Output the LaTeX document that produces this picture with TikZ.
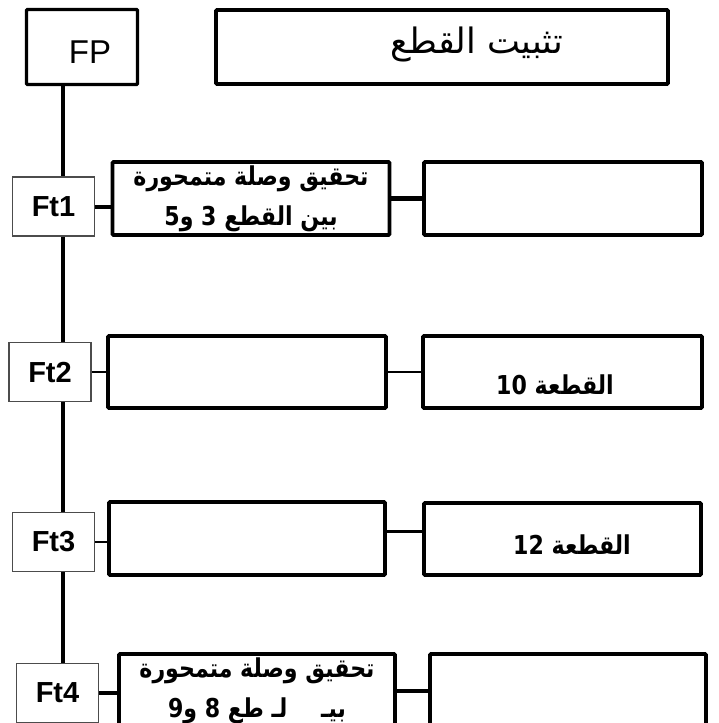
\documentclass[tikz,border=0pt]{standalone}
\usepackage{fontspec}
\setmainfont{Liberation Sans}
\newfontfamily\arabicfont[Script=Arabic, FakeStretch=0.85]{DejaVu Sans}
\newfontfamily\titlefont[Script=Arabic]{DejaVu Sans}
\TeXXeTstate=1

\begin{document}
\begin{tikzpicture}[x=1pt,y=-1pt,
  bigbox/.style={draw, line width=3.8pt, fill=white, inner sep=0pt, rounded corners=1pt},
  ftbox/.style={draw=black!70, line width=1.3pt, fill=white, inner sep=0pt, minimum width=82pt, minimum height=59pt, font=\bfseries\fontsize{29}{32}\selectfont},
  rowbox/.style={bigbox, minimum width=277pt, minimum height=73pt, align=center, font=\arabicfont\bfseries\fontsize{26}{40}\selectfont},
  thicklink/.style={line width=4pt},
  thinlink/.style={line width=2pt}]
\useasboundingbox (0,0) rectangle (718,723);
\clip (0,0) rectangle (718,723);

% top row
\node[bigbox, line width=3.2pt, minimum width=111pt, minimum height=75pt] (fp) at (82,47) {};
\node[font=\fontsize{33}{36}\selectfont] (fptext) at (90,52) {FP};
\node[bigbox, minimum width=452pt, minimum height=74pt] (title) at (442,47) {};
\node[font=\titlefont\fontsize{35}{38}\selectfont] (titletext) at (477,44) {\beginR تثبيت القطع\endR};

% spine
\coordinate (spinebot) at (63,740);
\draw[line width=4pt] (spinebot |- fp.south) -- (spinebot);

% Ft1
\node[ftbox] (ft1) at (53.5,206.5) {Ft1};
\node[rowbox] (l1) at (251,198.5) {\beginR تحقيق وصلة متمحورة\endR\\\beginR بين القطع 3 و5\endR};
\node[rowbox, minimum width=278pt] (r1) at (563,198.5) {};
\draw[thicklink] (ft1.east) -- (ft1.east -| l1.west);
\draw[thicklink, line width=4.5pt] (l1.east) -- (r1.west);

% Ft2
\node[ftbox] (ft2) at (50,372) {Ft2};
\node[rowbox, minimum width=278pt, minimum height=72pt] (l2) at (247,372) {};
\node[rowbox, minimum width=279pt, minimum height=72pt] (r2) at (562.5,372) {};
\node[font=\arabicfont\bfseries\fontsize{26}{28}\selectfont] (r2text) at (555,385) {\beginR القطعة 10\endR};
\draw[thinlink] (ft2.east) -- (l2.west);
\draw[thinlink] (l2.east) -- (r2.west);

% Ft3
\node[ftbox] (ft3) at (53.5,542) {Ft3};
\node[rowbox, minimum width=276pt] (l3) at (247,538.5) {};
\node[rowbox, minimum height=72pt] (r3) at (562.5,539) {};
\node[font=\arabicfont\bfseries\fontsize{26}{28}\selectfont] (r3text) at (572,545) {\beginR القطعة 12\endR};
\draw[thinlink] (ft3.east) -- (ft3.east -| l3.west);
\draw[thinlink, line width=3pt] ([yshift=7.5pt]l3.east) -- ([yshift=7.5pt]l3.east -| r3.west);

% Ft4
\node[ftbox] (ft4) at (57.5,693) {Ft4};
\node[rowbox, minimum width=276pt] (l4) at (257,690.5) {\beginR تحقيق وصلة متمحورة\endR\\\beginR بيـ\quad\ لـ طع 8 و9\endR};
\node[rowbox, minimum width=276pt] (r4) at (568,690.5) {};
\draw[thicklink] (ft4.east) -- (ft4.east -| l4.west);
\draw[thicklink] (l4.east) -- (r4.west);
\end{tikzpicture}
\end{document}
